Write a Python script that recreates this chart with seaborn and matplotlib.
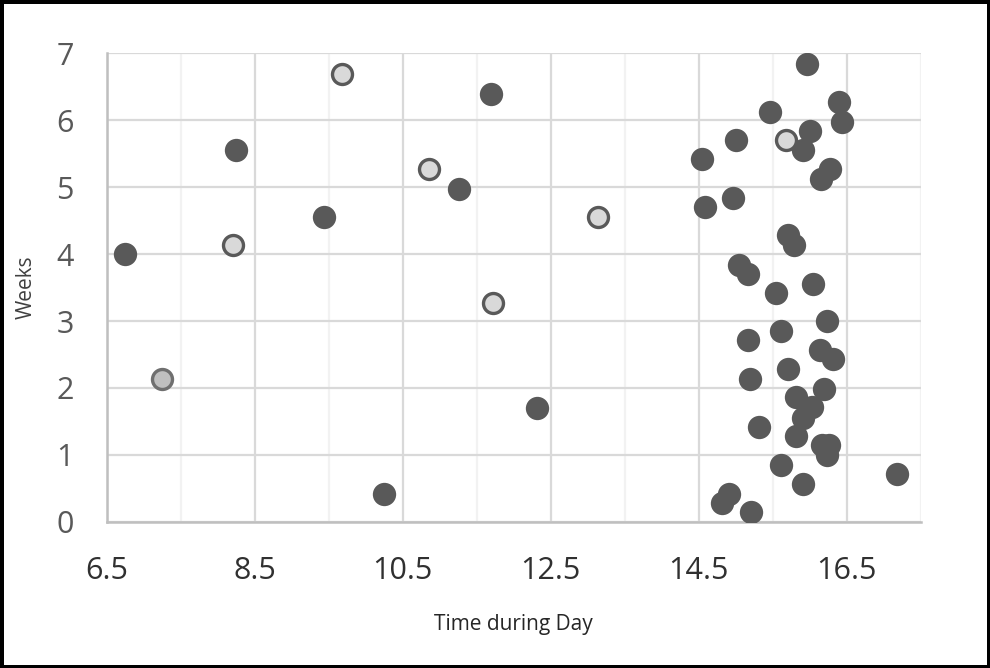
import numpy as np
import pandas as pd
import seaborn as sns
import matplotlib.pyplot as plt
from matplotlib.ticker import MultipleLocator

# dark filled points
dark_time = [6.75, 8.25, 9.44, 11.26, 11.69, 10.25, 12.31,
             15.96, 16.40, 16.44, 15.46, 15.01, 16.00, 15.91, 16.28, 16.15,
             14.55, 14.96, 14.59, 15.70, 15.79, 15.04, 15.17, 15.55, 16.04,
             16.24, 15.61, 15.17, 16.14, 16.31, 15.19, 15.71, 16.19, 15.81,
             16.03, 15.91, 15.31, 15.81, 16.16, 16.26, 16.23, 15.61, 15.91,
             17.18, 14.91, 14.81, 15.21]
dark_weeks = [4.00, 5.56, 4.55, 4.98, 6.40, 0.42, 1.70,
              6.84, 6.28, 5.98, 6.13, 5.71, 5.84, 5.56, 5.28, 5.13,
              5.42, 4.84, 4.70, 4.29, 4.14, 3.84, 3.70, 3.42, 3.56,
              3.00, 2.85, 2.71, 2.57, 2.43, 2.14, 2.28, 1.99, 1.86,
              1.72, 1.55, 1.42, 1.28, 1.15, 1.15, 1.00, 0.85, 0.56,
              0.71, 0.42, 0.28, 0.14]

# light hollow-looking points
light_time = [8.20, 9.68, 10.86, 11.72, 13.14, 15.68]
light_weeks = [4.13, 6.69, 5.27, 3.27, 4.56, 5.71]

# the one mid grey point
mid_time = [7.24]
mid_weeks = [2.13]

dark = pd.DataFrame({'Time': dark_time, 'Weeks': dark_weeks})
light = pd.DataFrame({'Time': light_time, 'Weeks': light_weeks})
mid = pd.DataFrame({'Time': mid_time, 'Weeks': mid_weeks})

sns.set_style('white')
plt.rcParams['font.family'] = ['Open Sans', 'DejaVu Sans']

fig = plt.figure(figsize=(9.9, 6.68), dpi=100)
fig.patch.set_edgecolor('black')
fig.patch.set_linewidth(5)
ax = fig.add_axes([0.108, 0.219, 0.822, 0.701])

sns.scatterplot(data=dark, x='Time', y='Weeks', ax=ax, s=282,
                color='#595959', edgecolor='#595959', linewidth=0, zorder=3)
sns.scatterplot(data=light, x='Time', y='Weeks', ax=ax, s=207,
                color='#d9d9d9', edgecolor='#595959', linewidth=2.4, zorder=3)
sns.scatterplot(data=mid, x='Time', y='Weeks', ax=ax, s=207,
                color='#bfbfbf', edgecolor='#6f6f6f', linewidth=2.4, zorder=3)

ax.set_xlim(6.5, 17.5)
ax.set_ylim(0, 7)
ax.yaxis.set_major_locator(MultipleLocator(1))
ax.set_xticks(np.arange(6.5, 17.0, 2.0))
ax.set_xticks(np.arange(7.5, 18.0, 2.0), minor=True)

ax.grid(True, which='major', axis='both', color='#d9d9d9', linewidth=1.6)
ax.grid(True, which='minor', axis='x', color='#f2f2f2', linewidth=1.6)
ax.set_axisbelow(True)

for side in ['top', 'right']:
    ax.spines[side].set_visible(False)
for side in ['left', 'bottom']:
    ax.spines[side].set_color('#bfbfbf')
    ax.spines[side].set_linewidth(1.8)

ax.tick_params(axis='both', which='both', length=0)
ax.tick_params(axis='x', labelsize=22, labelcolor='#303030', pad=25)
ax.tick_params(axis='y', labelsize=22, labelcolor='#595959', pad=24)

ax.set_xlabel('Time during Day', fontsize=15, color='#262626', labelpad=20)
ax.set_ylabel('Weeks', fontsize=15, color='#404040', labelpad=14)

fig.savefig('out.png', dpi=100)
